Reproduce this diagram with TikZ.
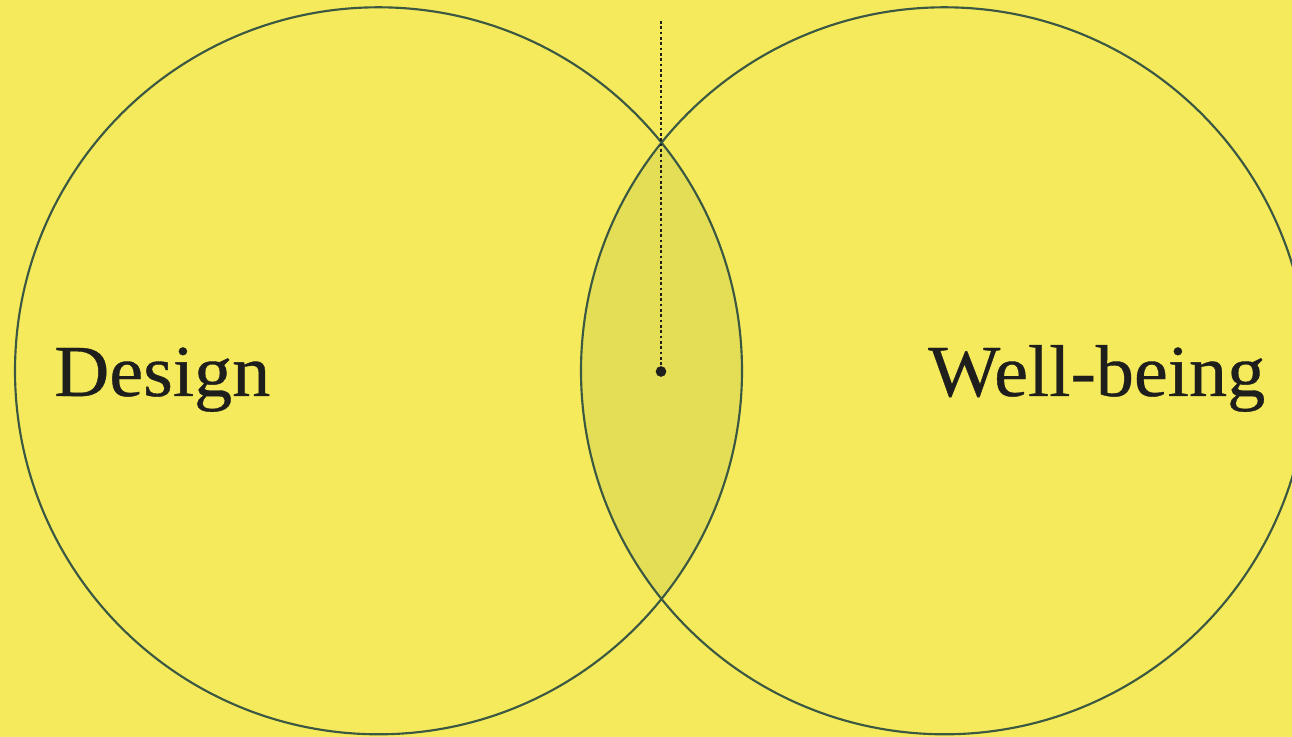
\documentclass[tikz,border=0pt]{standalone}
\usepackage{fontspec}
\setmainfont{Liberation Serif}[FakeStretch=1.04,FakeBold=0.5]
\usepackage{tikz}

\definecolor{venyellow}{RGB}{245,234,92}
\definecolor{venlens}{RGB}{228,222,86}
\definecolor{venline}{RGB}{58,88,66}
\definecolor{veninkk}{RGB}{30,30,28}

\tikzset{
  venring/.style={draw=venline, line width=1.6pt},
  venlabel/.style={anchor=base west, inner sep=0pt, text=veninkk, font=\fontsize{55}{60}\selectfont},
  pindot/.style={circle, fill=veninkk, inner sep=0pt, minimum size=8pt},
}

\begin{document}
\begin{tikzpicture}[x=0.75pt,y=0.75pt,yscale=-1,xscale=1]
%set diagram left start at 0, and has height of 737
\useasboundingbox (0,0) rectangle (1292,737);
\fill [venyellow] (0,0) rectangle (1292,737);

%Shape: Lens (overlap of the two circles)
\begin{scope}
  \clip (378.5,370.8) circle [radius=363.5];
  \fill [venlens] (944.5,370.8) circle [radius=363.5];
\end{scope}

%Shape: Circle left
\draw [venring] (378.5,370.8) circle [radius=363.5];
%Shape: Circle right
\draw [venring] (944.5,370.8) circle [radius=363.5];

%Dot and dotted pointer
\node [pindot] (pin) at (661,371.5) {};
\coordinate (pintop) at (661,21);
\draw [veninkk, line width=2pt, dash pattern={on 2pt off 2pt}] (pintop) -- (pin.center);

% Text Node
\node [venlabel] (design) at (54,396) {Design};
% Text Node
\node [venlabel] (wellbeing) at (928,396) {Well-being};

\end{tikzpicture}
\end{document}
